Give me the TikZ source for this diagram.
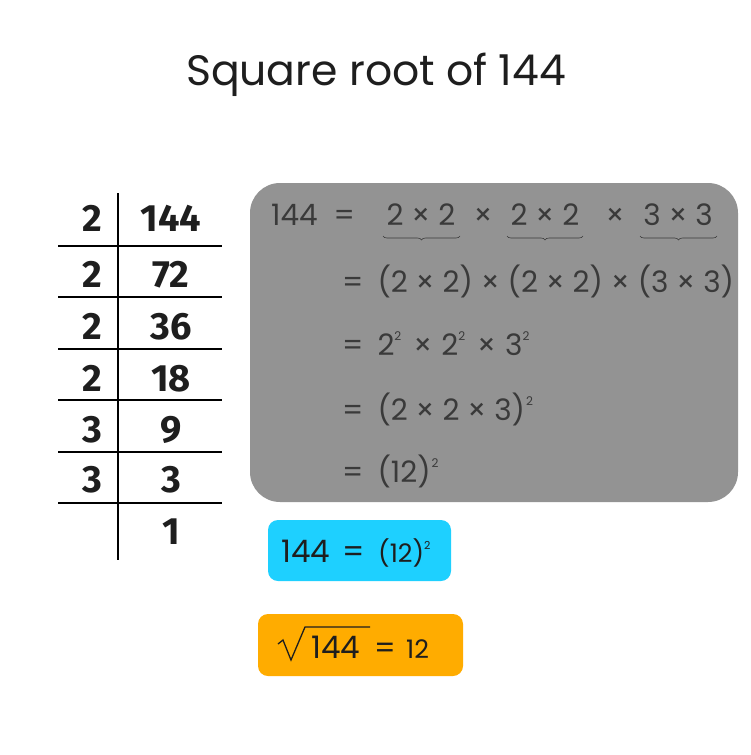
\documentclass[tikz,border=0pt]{standalone}
\usepackage{fontspec}
\setmainfont{Poppins}
\newfontfamily\boldfont{Fira Sans}
\usetikzlibrary{decorations.pathreplacing}
\definecolor{boxgray}{HTML}{939393}
\definecolor{eqtext}{HTML}{3A3A3A}
\definecolor{cyanbox}{HTML}{1ED0FF}
\definecolor{orangebox}{HTML}{FFAC00}
\definecolor{ink}{HTML}{1E1E1E}
\newcommand{\sqd}{\raisebox{0.5em}{\fontsize{12}{12}\selectfont 2}}
\tikzset{
  eq/.style={text=eqtext, font=\fontsize{29.5}{34}\selectfont, inner sep=0pt, anchor=base west},
  eqc/.style={text=eqtext, font=\fontsize{29.5}{34}\selectfont, inner sep=0pt, anchor=base},
  tab/.style={font=\boldfont\bfseries\fontsize{38}{44}\selectfont, text=ink, inner sep=0pt, anchor=base},
  tline/.style={line width=2.4pt, black},
  ubrace/.style={decorate, decoration={brace, mirror, amplitude=4pt}, line width=0.6pt, eqtext},
  res/.style={text=ink, inner sep=0pt, anchor=base west}
}
\begin{document}
\begin{tikzpicture}[x=1pt,y=-1pt]
\useasboundingbox[fill=white] (0,0) rectangle (750,755);
% title
\node[font=\fontsize{42.5}{48}\selectfont, text=ink, inner sep=0pt] (title) at (376,75) {Square root of 144};
% division table
\draw[tline] (118,193) -- (118,560);
\foreach \yy in {246,297,349,400,452,503} \draw[tline] (58,\yy) -- (222,\yy);
\node[tab] (d1) at (92,231) {2};
\node[tab] (n1) at (171,231) {144};
\node[tab] (d2) at (92,287) {2};
\node[tab] (n2) at (171,287) {72};
\node[tab] (d3) at (92,339) {2};
\node[tab] (n3) at (171,339) {36};
\node[tab] (d4) at (92,391) {2};
\node[tab] (n4) at (171,391) {18};
\node[tab] (d5) at (92,442) {3};
\node[tab] (n5) at (171,442) {9};
\node[tab] (d6) at (92,492) {3};
\node[tab] (n6) at (171,492) {3};
\node[tab] (n7) at (171,544) {1};
% gray box
\fill[boxgray, rounded corners=30pt] (250,183) rectangle (738,502);
\node[eq] (r1a) at (271,225) {144\hspace{16pt}=};
\node[eqc] (r1b) at (421,225) {2 × 2};
\node[eqc] (r1c) at (483,225) {×};
\node[eqc] (r1d) at (545,225) {2 × 2};
\node[eqc] (r1e) at (615,225) {×};
\node[eqc] (r1f) at (678,225) {3 × 3};
\draw[ubrace] (383,236) -- (460,236);
\draw[ubrace] (507,236) -- (583,236);
\draw[ubrace] (640,236) -- (717,236);
\node[eq] (r2) at (342,292) {=\hspace{14pt}(2 × 2) × (2 × 2) × (3 × 3)};
\node[eq] (r3) at (342,355) {=\hspace{14pt}2\sqd\hspace{12pt}×\hspace{9pt}2\sqd\hspace{12pt}×\hspace{9pt}3\sqd};
\node[eq] (r4) at (342,420) {=\hspace{14pt}(2 × 2 × 3)\hspace{1pt}\sqd};
\node[eq] (r5) at (342,482) {=\hspace{14pt}(12)\hspace{1pt}\sqd};
% cyan box
\fill[cyanbox, rounded corners=10pt] (268,520) rectangle (451,581);
\node[res, font=\fontsize{31}{36}\selectfont] (c1) at (281,562) {144};
\node[res, font=\fontsize{31}{36}\selectfont, anchor=base] (c1e) at (354,562) {=};
\node[res, font=\fontsize{25.5}{30}\selectfont] (c2) at (378,562) {(12)\raisebox{0.5em}{\fontsize{11}{11}\selectfont 2}};
% orange box
\fill[orangebox, rounded corners=10pt] (258,614) rectangle (463,676);
\draw[ink, line width=1.3pt, line join=miter] (278,644) -- (283,640) -- (291,660) -- (305,627) -- (370,627);
\node[res, font=\fontsize{31}{36}\selectfont] (o1) at (311,658) {144};
\node[res, font=\fontsize{30}{34}\selectfont, anchor=base] (o2) at (385,658) {=};
\node[res, font=\fontsize{25.5}{30}\selectfont] (o3) at (406,658) {12};
\end{tikzpicture}
\end{document}
